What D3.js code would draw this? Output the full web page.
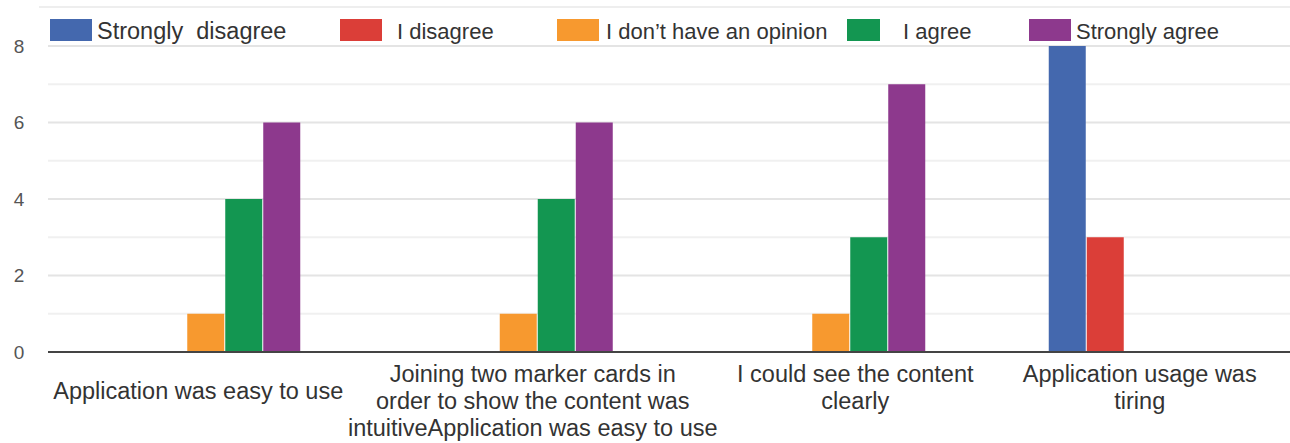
<!DOCTYPE html>
<html lang="en">
<head>
    <meta charset="UTF-8">
    <title>Survey answers</title>
    <script src="https://d3js.org/d3.v7.min.js"></script>
    <style>
        body { margin: 0; background: #fff; }
        svg { display: block; font-family: "Liberation Sans", Arial, sans-serif; }
        .grid line { stroke: #e4e4e4; }
        .grid line.minor { stroke: #f0f0f0; }
        .ylab { fill: #555; font-size: 19px; }
        .xlab { fill: #333; font-size: 23.5px; }
        .legend text { fill: #333; font-size: 22px; }
    </style>
</head>
<body>
    <script>
        // questions (x categories), split into label lines
        var categories = [
            "Application was easy to use",
            "Joining two marker cards",
            "I could see the content",
            "Application usage was tiring"
        ];
        var categoryLines = [
            ["Application was easy to use"],
            ["Joining two marker cards in", "order to show the content was", "intuitiveApplication was easy to use"],
            ["I could see the content", "clearly"],
            ["Application usage was", "tiring"]
        ];

        var seriesNames = ["Strongly  disagree", "I disagree", "I don\u2019t have an opinion", "I agree", "Strongly agree"];
        var seriesColors = ["#4468ae", "#db3e38", "#f7992f", "#139651", "#8d398d"];

        // answer counts per question
        var stronglyDisagree = [0, 0, 0, 8];
        var disagree = [0, 0, 0, 3];
        var noOpinion = [1, 1, 1, 0];
        var agree = [4, 4, 3, 0];
        var stronglyAgree = [6, 6, 7, 0];

        var yTicks = [0, 2, 4, 6, 8];

        var values = [stronglyDisagree, disagree, noOpinion, agree, stronglyAgree];

        var width = 1290, height = 443;
        var svg = d3.select("body").append("svg")
            .attr("width", width)
            .attr("height", height);

        var x0 = d3.scaleBand().domain(categories).range([50, 1300]);
        var x1 = d3.scaleBand().domain(seriesNames).range([-95, 95]);
        var y = d3.scaleLinear().domain([0, 8]).range([352, 46]);

        // grid, one line per unit
        var grid = svg.append("g").attr("class", "grid");
        grid.selectAll("line")
            .data(d3.range(1, 9))
            .enter().append("line")
            .attr("class", function (d) { return d % 2 ? "minor" : "major"; })
            .attr("x1", 48).attr("x2", width)
            .attr("y1", function (d) { return y(d); })
            .attr("y2", function (d) { return y(d); })
            .attr("stroke-width", 2);

        // faint border over the legend
        svg.append("line")
            .attr("x1", 39).attr("x2", width)
            .attr("y1", 7).attr("y2", 7)
            .attr("stroke", "#eeeeee").attr("stroke-width", 2);

        svg.append("g").selectAll("text")
            .data(yTicks)
            .enter().append("text")
            .attr("class", "ylab")
            .attr("x", 19)
            .attr("y", function (d) { return y(d); })
            .attr("dy", "0.35em")
            .attr("text-anchor", "middle")
            .text(function (d) { return d; });

        // bars
        var groups = svg.append("g").selectAll("g")
            .data(categories)
            .enter().append("g")
            .attr("transform", function (d) { return "translate(" + (x0(d) + x0.bandwidth() / 2) + ",0)"; });

        groups.selectAll("rect")
            .data(function (d, i) {
                return seriesNames.map(function (s, k) { return { s: s, k: k, v: values[k][i] }; });
            })
            .enter().append("rect")
            .filter(function (d) { return d.v > 0; })
            .attr("x", function (d) { return x1(d.s); })
            .attr("width", x1.bandwidth() - 1)
            .attr("y", function (d) { return y(d.v); })
            .attr("height", function (d) { return y(0) - y(d.v); })
            .attr("fill", function (d) { return seriesColors[d.k]; });

        // baseline
        svg.append("line")
            .attr("x1", 48).attr("x2", width)
            .attr("y1", y(0)).attr("y2", y(0))
            .attr("stroke", "#444").attr("stroke-width", 2);

        // category labels (the source nudges them a little off the group centres)
        var labelShift = [-8, 14, 24, -4];
        groups.append("text")
            .attr("class", "xlab")
            .attr("text-anchor", "middle")
            .each(function (d, i) {
                var lines = categoryLines[i];
                var top = lines.length == 1 ? 391 : 374;
                d3.select(this).selectAll("tspan")
                    .data(lines)
                    .enter().append("tspan")
                    .attr("x", labelShift[i])
                    .attr("y", function (l, j) { return top + j * 27; })
                    .attr("dy", "0.35em")
                    .text(function (l) { return l; });
            });

        // legend
        var legendBox = [50, 340, 557, 847, 1029];
        var legendText = [97, 397, 606, 903, 1076];
        var legend = svg.append("g").attr("class", "legend")
            .selectAll("g")
            .data(seriesNames)
            .enter().append("g");
        legend.append("rect")
            .attr("x", function (d, i) { return legendBox[i]; })
            .attr("y", 19)
            .attr("width", function (d, i) { return i == 3 ? 33 : 42; })
            .attr("height", 22)
            .attr("fill", function (d, i) { return seriesColors[i]; });
        legend.append("text")
            .attr("x", function (d, i) { return legendText[i]; })
            .attr("y", 31)
            .attr("dy", "0.35em")
            .style("font-size", function (d, i) { return i == 0 ? "23.5px" : null; })
            .style("white-space", "pre")
            .text(function (d) { return d; });
    </script>
</body>
</html>
